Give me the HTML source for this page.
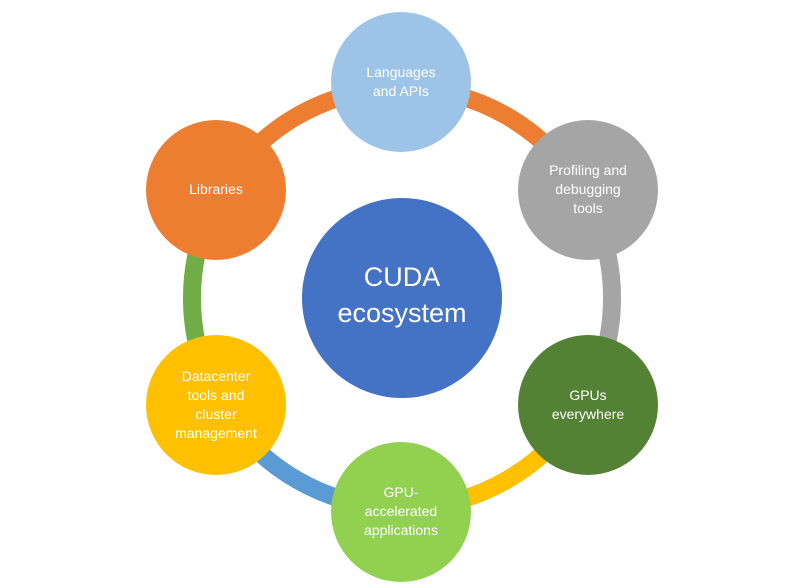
<!DOCTYPE html>
<html><head><meta charset="utf-8"><style>
html,body{margin:0;padding:0;background:#fff;}
svg{display:block;}
text{font-family:"Liberation Sans",sans-serif;fill:#fff;}
</style></head><body>
<svg width="800" height="588" viewBox="0 0 800 588" xmlns="http://www.w3.org/2000/svg">
<g fill="none" stroke-width="18">
<path d="M402,88 A210,210 0 0 1 583.9,193" stroke="#ED7D31"/>
<path d="M583.9,193 A210,210 0 0 1 583.9,403" stroke="#A5A5A5"/>
<path d="M583.9,403 A210,210 0 0 1 402,508" stroke="#FFC000"/>
<path d="M402,508 A210,210 0 0 1 220.1,403" stroke="#5B9BD5"/>
<path d="M220.1,403 A210,210 0 0 1 220.1,193" stroke="#70AD47"/>
<path d="M220.1,193 A210,210 0 0 1 402,88" stroke="#ED7D31"/>
</g>
<circle cx="402" cy="298" r="100" fill="#4472C4"/>
<text x="402" y="286" font-size="27" text-anchor="middle">CUDA</text>
<text x="402" y="322" font-size="27" text-anchor="middle">ecosystem</text>

<circle cx="401" cy="82" r="70" fill="#9DC3E6"/>
<text x="401" y="77" font-size="14" text-anchor="middle">Languages</text>
<text x="401" y="96" font-size="14" text-anchor="middle">and APIs</text>

<circle cx="588" cy="190" r="70" fill="#A5A5A5"/>
<text x="588" y="175" font-size="14" text-anchor="middle">Profiling and</text>
<text x="588" y="194" font-size="14" text-anchor="middle">debugging</text>
<text x="588" y="213" font-size="14" text-anchor="middle">tools</text>

<circle cx="588" cy="405" r="70" fill="#548235"/>
<text x="588" y="400" font-size="14" text-anchor="middle">GPUs</text>
<text x="588" y="419" font-size="14" text-anchor="middle">everywhere</text>

<circle cx="401" cy="512" r="70" fill="#92D050"/>
<text x="401" y="497" font-size="14" text-anchor="middle">GPU-</text>
<text x="401" y="516" font-size="14" text-anchor="middle">accelerated</text>
<text x="401" y="535" font-size="14" text-anchor="middle">applications</text>

<circle cx="216" cy="405" r="70" fill="#FFC000"/>
<text x="216" y="381" font-size="14" text-anchor="middle">Datacenter</text>
<text x="216" y="400" font-size="14" text-anchor="middle">tools and</text>
<text x="216" y="419" font-size="14" text-anchor="middle">cluster</text>
<text x="216" y="438" font-size="14" text-anchor="middle">management</text>

<circle cx="216" cy="190" r="70" fill="#ED7D31"/>
<text x="216" y="194" font-size="14" text-anchor="middle">Libraries</text>
</svg>
</body></html>
